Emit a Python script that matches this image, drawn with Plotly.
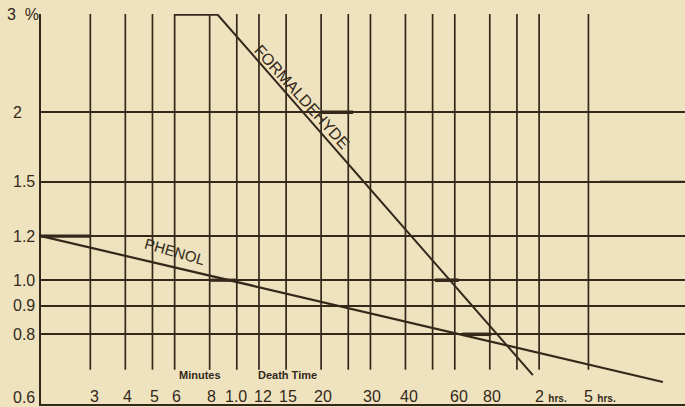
import math
import plotly.graph_objects as go

# ---- data ----
form_time = [8.5, 114]          # minutes
form_conc = [3.0, 0.676]        # per cent
phen_time = [2, 332]
phen_conc = [1.2, 0.657]

# short heavy bars (observed death-time ranges)
bar_t0 = [6.0, 20, 51, 64, 2, 8, 198]
bar_t1 = [8.5, 26, 62, 81, 3, 10, 400]
bar_c = [3.0, 2.0, 1.0, 0.8, 1.2, 1.0, 1.5]
bar_w = [3.5, 3.5, 3.5, 3.5, 3.2, 3.2, 2.2]

grid_minutes = [3, 4, 5, 6, 8, 10, 12, 15, 20, 25, 30, 40, 50, 60, 80, 100, 120, 180]
x_label_vals = [3, 4, 5, 6, 8, 10, 12, 15, 20, 30, 40, 60, 80]
x_label_txt = ["3", "4", "5", "6", "8", "1.0", "12", "15", "20", "30", "40", "60", "80"]
hrs_vals = [120, 180]
hrs_txt = ["2", "5"]

y_vals = [3, 2, 1.5, 1.2, 1.0, 0.9, 0.8, 0.6]
y_txt = ["3&nbsp;&nbsp;%", "2", "1.5", "1.2", "1.0", "0.9", "0.8", "0.6"]

BG = "#EFE3BF"
INK = "#33281A"
FONT = "Liberation Sans"

fig = go.Figure()

fig.add_trace(go.Scatter(x=form_time, y=form_conc, mode="lines",
                         line=dict(color=INK, width=2), hoverinfo="skip"))
fig.add_trace(go.Scatter(x=phen_time, y=phen_conc, mode="lines",
                         line=dict(color=INK, width=2.2), hoverinfo="skip"))
for t0, t1, c, w in zip(bar_t0, bar_t1, bar_c, bar_w):
    fig.add_trace(go.Scatter(x=[t0, t1], y=[c, c], mode="lines",
                             line=dict(color=INK, width=w), hoverinfo="skip"))

shapes = []
for g in grid_minutes:
    shapes.append(dict(type="line", xref="x", yref="paper", x0=g, x1=g,
                       y0=0.088, y1=1, line=dict(color=INK, width=1.7), layer="below"))

ann = []
for v, t in zip(y_vals, y_txt):
    ann.append(dict(x=0, xref="paper", y=math.log10(v), yref="y", text=t,
                    xanchor="left", xshift=(-36 if v == 3 else -30),
                    yshift=(7 if v == 0.6 else 0),
                    showarrow=False, font=dict(family=FONT, size=16, color=INK)))
for v, t in zip(x_label_vals, x_label_txt):
    sh = -1 if v == 10 else (4 if v in (12, 40, 60, 3) else 2)
    ann.append(dict(x=math.log10(v), xref="x", y=0, yref="paper", text=t,
                    xanchor="center", yanchor="bottom", xshift=sh, yshift=-3,
                    showarrow=False, font=dict(family=FONT, size=16, color=INK)))
for v, t in zip(hrs_vals, hrs_txt):
    ann.append(dict(x=math.log10(v), xref="x", y=0, yref="paper",
                    text=t + " <span style='font-size:10px'><b>hrs.</b></span>",
                    xanchor="left", yanchor="bottom", xshift=-6, yshift=-3,
                    showarrow=False, font=dict(family=FONT, size=16, color=INK)))
ann.append(dict(x=math.log10(7.4), xref="x", y=0.054, yref="paper", text="<b>Minutes</b>",
                showarrow=False, font=dict(family=FONT, size=11, color=INK)))
ann.append(dict(x=math.log10(15.2), xref="x", y=0.054, yref="paper", text="<b>Death Time</b>",
                showarrow=False, font=dict(family=FONT, size=11, color=INK)))
ann.append(dict(x=math.log10(17.0), xref="x", y=math.log10(2.13), yref="y",
                text="FORMALDEHYDE", textangle=48, showarrow=False,
                font=dict(family=FONT, size=16, color=INK)))
ann.append(dict(x=math.log10(6.0), xref="x", y=math.log10(1.127), yref="y",
                text="PHENOL", textangle=16, showarrow=False,
                font=dict(family=FONT, size=15, color=INK)))

fig.update_layout(
    width=685, height=407,
    margin=dict(l=41, r=0, t=14, b=3),
    paper_bgcolor=BG, plot_bgcolor=BG,
    showlegend=False,
    shapes=shapes, annotations=ann,
    xaxis=dict(type="log", range=[math.log10(2), 2.6], showgrid=False,
               showticklabels=False, ticks="", zeroline=False,
               showline=True, linecolor=INK, linewidth=2),
    yaxis=dict(type="log", range=[math.log10(0.6), math.log10(3)],
               tickvals=y_vals, showticklabels=False, ticks="",
               showgrid=True, gridcolor=INK, gridwidth=1.7, zeroline=False,
               showline=True, linecolor=INK, linewidth=2.2),
)

fig.write_html("out.html")
